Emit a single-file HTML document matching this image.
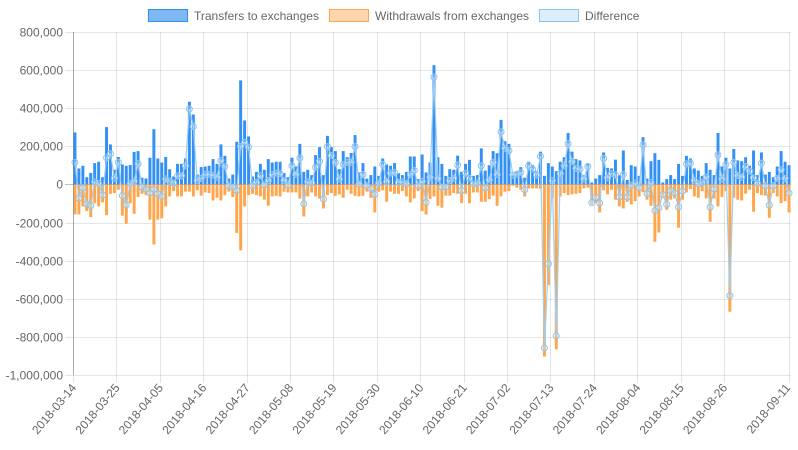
<!DOCTYPE html>
<html><head><meta charset="utf-8">
<style>
body{margin:0;background:#fff;width:798px;height:450px;overflow:hidden;font-family:"Liberation Sans",sans-serif;}
svg{display:block}
text{font-family:"Liberation Sans",sans-serif;font-size:12px;fill:#666}
</style></head>
<body>
<svg id="chart" width="798" height="450" viewBox="0 0 798 450">
  <g>
    <g>
      <rect x="148.5" y="9.5" width="39" height="12" fill="#80b8f5" stroke="#2f8ff7" stroke-width="1"/>
      <text x="194" y="20">Transfers to exchanges</text>
    </g>
    <g>
      <rect x="329.5" y="9.5" width="39" height="12" fill="#ffd6ad" stroke="#ffa64d" stroke-width="1"/>
      <text x="375" y="20">Withdrawals from exchanges</text>
    </g>
    <g>
      <rect x="539.5" y="9.5" width="39" height="12" fill="#dcedfc" stroke="#8cc4f0" stroke-width="1"/>
      <text x="585" y="20">Difference</text>
    </g>
  </g>
  <g id="grid"></g>
  <g id="bars"></g>
  <g id="line"></g>
  <g id="axes"></g>
</svg>
<script>
const startDate = "2018-03-14";
const yTicks = [800000,600000,400000,200000,0,-200000,-400000,-600000,-800000,-1000000];
const transfers = [273,84,98,38,60,112,119,38,301,210,77,144,105,98,102,171,175,35,31,140,290,136,115,
144,80,42,108,108,136,434,367,52,91,94,98,133,108,210,150,31,52,224,546,336,252,42,
66,108,77,133,115,119,119,60,38,140,94,213,66,77,49,154,196,49,255,196,175,80,175,
143,165,259,63,112,31,49,94,45,136,105,98,112,59,49,66,147,147,28,157,63,115,
626,143,108,45,80,77,151,66,108,129,45,49,189,73,101,175,164,339,227,213,56,70,91,
35,119,101,70,172,45,112,94,70,119,143,270,172,133,126,49,112,10,31,49,168,87,84,
130,49,178,24,101,94,45,248,31,122,164,129,10,28,49,28,108,45,150,136,84,73,45,
112,77,49,270,94,140,84,186,126,122,143,98,178,49,168,52,66,38,94,175,119,101].map(v=>v*1000);
const withdrawals = [-157,-157,-115,-140,-171,-98,-115,-94,-161,-49,-45,-28,-164,-206,-98,-154,-66,-49,-56,-185,-315,-185,-178,
-115,-63,-35,-63,-63,-38,-38,-63,-31,-59,-42,-45,-84,-70,-84,-56,-38,-66,-255,-346,-115,-56,-49,
-56,-63,-80,-112,-63,-60,-63,-38,-42,-42,-42,-74,-168,-63,-42,-63,-74,-126,-56,-45,-60,-52,-70,
-28,-49,-60,-63,-60,-38,-70,-147,-38,-31,-91,-38,-49,-49,-35,-63,-94,-73,-35,-140,-158,-77,
-63,-112,-122,-59,-59,-45,-49,-98,-49,-98,-42,-42,-91,-91,-77,-59,-112,-63,-38,-35,-7,-17,-28,
-63,-21,-21,-21,-24,-903,-528,-73,-865,-63,-45,-56,-52,-49,-45,-21,-17,-105,-98,-147,-31,-52,-28,
-80,-115,-126,-91,-105,-87,-63,-40,-80,-112,-301,-252,-63,-133,-80,-73,-227,-80,-42,-24,-63,-70,-35,
-73,-196,-73,-115,-66,-35,-668,-70,-80,-84,-49,-28,-143,-45,-56,-59,-175,-45,-63,-98,-87,-147].map(v=>v*1000);

const NS="http://www.w3.org/2000/svg";
const L=73,R=791,T=32,B=375,yMax=800000,yMin=-1000000;
const n=transfers.length, cw=(R-L)/n;
const dates=[];
(function(){const d=new Date(startDate+"T00:00:00Z");for(let i=0;i<n;i++){const c=new Date(d.getTime()+i*86400000);dates.push(c.toISOString().slice(0,10));}})();
const xc=i=>L+(i+0.5)*cw;
const y=v=>T+(yMax-v)/(yMax-yMin)*(B-T);
function mk(tag,attrs,parent){const e=document.createElementNS(NS,tag);for(const k in attrs)e.setAttribute(k,attrs[k]);parent.appendChild(e);return e;}
const grid=document.getElementById('grid'),bars=document.getElementById('bars'),line=document.getElementById('line'),axes=document.getElementById('axes');
yTicks.forEach(t=>{
  const yy=Math.round(y(t))+0.5;
  const g=mk('line',{x1:L-8,x2:R,y1:yy,y2:yy,stroke:t===0?'rgba(0,0,0,0.25)':'rgba(0,0,0,0.1)','stroke-width':1},grid);
  
  
  const tx=mk('text',{x:L-10,y:yy+4,'text-anchor':'end'},axes);
  tx.textContent=t.toLocaleString('en-US');
  
  
});
for(let i=0;i<n;i++){
  const isLast=(i===n-1);
  if((i%11===0 && n-1-i>=8)||isLast){
    const gx=Math.round(isLast?R-2:L+i*cw)+0.5;
    const g=mk('line',{x1:gx,x2:gx,y1:T,y2:B+8,stroke:'rgba(0,0,0,0.1)','stroke-width':1},grid);
    
    
    const lx=xc(i)+2,ly=B+13;
    const tx=mk('text',{x:lx,y:ly,'text-anchor':'end',transform:`rotate(-50 ${lx} ${ly})`},axes);
    tx.textContent=dates[i];
    
    
  }
}
const bw=cw*0.75;
const y0=y(0);
for(let i=0;i<n;i++){
  const a=mk('rect',{x:xc(i)-bw/2,y:y(transfers[i]),width:bw,height:y0-y(transfers[i]),fill:'#3391f5'},bars);
  
  
  const b=mk('rect',{x:xc(i)-bw/2,y:y0,width:bw,height:y(withdrawals[i])-y0,fill:'#ffa64d'},bars);
  
  
}
let d='';
const diff=transfers.map((t,i)=>t+withdrawals[i]);
diff.forEach((v,i)=>{d+=(i?'L':'M')+xc(i).toFixed(2)+' '+y(v).toFixed(2);});
const p=mk('path',{d:d,fill:'none',stroke:'#9ccdf2','stroke-width':1.2},line);


diff.forEach((v,i)=>{
  const c=mk('circle',{cx:xc(i),cy:y(v),r:3,fill:'rgba(220,237,252,0.3)',stroke:'#8cc4f0','stroke-width':1},line);
  
  
});
const ax=mk('line',{x1:L+0.5,x2:L+0.5,y1:T,y2:B,stroke:'rgba(0,0,0,0.25)','stroke-width':1},axes);


</script>
</body></html>
